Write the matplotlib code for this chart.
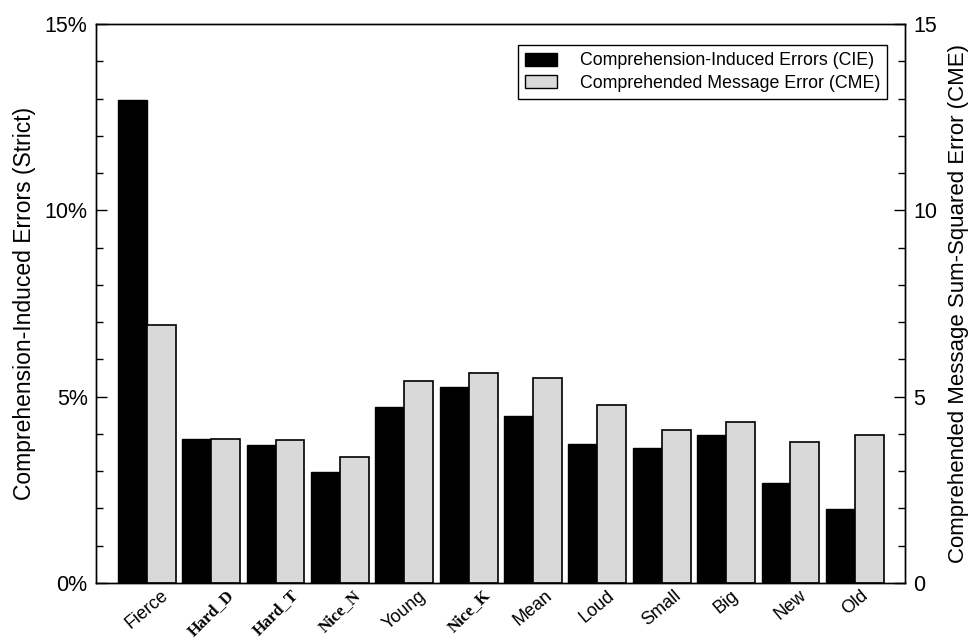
import numpy as np
import matplotlib.pyplot as plt
from matplotlib.ticker import MultipleLocator, FuncFormatter
from matplotlib.patches import Patch

# Datos
categorias = ['Fierce', 'Hard_D', 'Hard_T', 'Nice_N', 'Young', 'Nice_K',
              'Mean', 'Loud', 'Small', 'Big', 'New', 'Old']
negritas = ['Hard_D', 'Hard_T', 'Nice_N', 'Nice_K']
cie = [12.96, 3.86, 3.70, 2.98, 4.72, 5.26, 4.48, 3.73, 3.62, 3.97, 2.68, 1.99]
cme = [6.92, 3.86, 3.84, 3.38, 5.42, 5.63, 5.50, 4.78, 4.10, 4.32, 3.78, 3.97]

plt.rcParams['font.family'] = ['Liberation Sans', 'DejaVu Sans']

fig = plt.figure(figsize=(9.69, 6.39), dpi=100)
ax = fig.add_axes([0.099, 0.0876, 0.835, 0.8748])
ax2 = ax.twinx()

x = np.arange(len(categorias))
ancho = 0.45
ax.bar(x - ancho / 2, cie, ancho, color='black', edgecolor='black', linewidth=1)
ax2.bar(x + ancho / 2, cme, ancho, color='#d9d9d9', edgecolor='black', linewidth=1.2)

ax.set_xlim(-0.79, len(categorias) - 0.22)
ax.set_ylim(0, 15)
ax2.set_ylim(0, 15)

ax.yaxis.set_major_locator(MultipleLocator(5))
ax.yaxis.set_minor_locator(MultipleLocator(1))
ax.yaxis.set_major_formatter(FuncFormatter(lambda v, p: f'{int(v)}%'))
ax2.yaxis.set_major_locator(MultipleLocator(5))
ax2.yaxis.set_minor_locator(MultipleLocator(1))

for a in (ax, ax2):
    a.tick_params(axis='y', which='major', direction='in', length=8, width=1,
                  labelsize=15.5, pad=6)
    a.tick_params(axis='y', which='minor', direction='in', length=5, width=1)
    for s in a.spines.values():
        s.set_linewidth(1)

# Etiquetas del eje x: normales inclinadas ~40°, las de negrita (serif) ~45°
ax.set_xticks(x)
ax.set_xticklabels(categorias, rotation=40, ha='center', fontsize=13)
ax.tick_params(axis='x', length=0, pad=3)
for etiqueta in ax.get_xticklabels():
    if etiqueta.get_text() in negritas:
        etiqueta.set_fontfamily('Liberation Serif')
        etiqueta.set_fontweight('bold')
        etiqueta.set_fontsize(12)
        etiqueta.set_rotation(45)

ax.set_ylabel('Comprehension-Induced Errors (Strict)', fontsize=16.5, labelpad=6)
ax2.set_ylabel('Comprehended Message Sum-Squared Error (CME)', fontsize=16, labelpad=8)

manejadores = [Patch(facecolor='black', edgecolor='black'),
               Patch(facecolor='#d9d9d9', edgecolor='black')]
ley = ax.legend(manejadores, ['Comprehension-Induced Errors (CIE)',
                              'Comprehended Message Error (CME)'],
                loc='upper right', bbox_to_anchor=(0.978, 0.962), borderaxespad=0,
                fontsize=12.8, fancybox=False, edgecolor='black', framealpha=1,
                handlelength=1.8, handleheight=0.73, handletextpad=1.3,
                borderpad=0.4, labelspacing=0.3)
ley.get_frame().set_linewidth(1)
ley.set_zorder(5)

fig.savefig('out.png', dpi=100)
